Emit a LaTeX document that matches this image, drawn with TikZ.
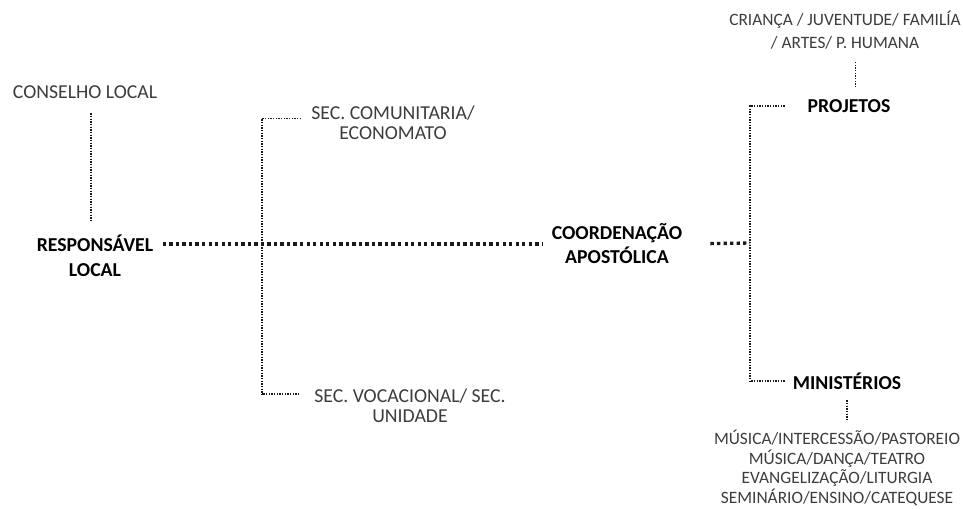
\documentclass[tikz,border=0pt]{standalone}
\usepackage{fontspec}
\setmainfont{Carlito}
\usetikzlibrary{calc}
\definecolor{txtgray}{HTML}{3C3C3C}
\definecolor{dotgray}{HTML}{1A1A1A}
\tikzset{
    plain/.style={inner sep=0pt, align=center, text=txtgray, font=\fontsize{14.8}{14.8}\selectfont},
    small/.style={plain, font=\fontsize{13}{14.8}\selectfont},
    chief/.style={inner sep=0pt, align=center, text=black, font=\fontsize{14.8}{19}\selectfont\bfseries},
    dotline/.style={draw=dotgray, line width=1pt, dash pattern=on 1pt off 1pt},
    thickdot/.style={draw=dotgray, line width=2.5pt, dash pattern=on 2.5pt off 2.4pt}
}
\begin{document}
\begin{tikzpicture}[x=0.75pt, y=-0.75pt]
    \useasboundingbox (0,0) rectangle (963,508);
    \node[plain] (consel) at (85,92) {CONSELHO LOCAL};
    \node[chief] (resp) at (95,256) {RESPONSÁVEL\\LOCAL};
    \node[chief, font=\fontsize{14.8}{18}\selectfont\bfseries] (coord) at (617,244) {COORDENAÇÃO\\APOSTÓLICA};
    \node[plain] (secc) at (393,123) {SEC. COMUNITARIA/\\ECONOMATO};
    \node[plain] (secv) at (410,406) {SEC. VOCACIONAL/ SEC.\\UNIDADE};
    \node[small, font=\fontsize{13}{17}\selectfont] (crianca) at (845,30) {CRIANÇA / JUVENTUDE/ FAMILÍA\\/ ARTES/ P. HUMANA};
    \node[chief] (proj) at (849,106) {PROJETOS};
    \node[chief] (minis) at (847,381) {MINISTÉRIOS};
    \node[small] (musica) at (837,468) {MÚSICA/INTERCESSÃO/PASTOREIO\\MÚSICA/DANÇA/TEATRO\\EVANGELIZAÇÃO/LITURGIA\\SEMINÁRIO/ENSINO/CATEQUESE};

    \coordinate (lbar) at (262,243);
    \coordinate (rbar) at (750,243);

    \draw[dotline, shorten <=11pt, shorten >=9pt] ([xshift=4.5pt]consel.south) -- ([xshift=4.5pt]consel.south |- resp.north);
    \draw[thickdot, shorten <=7pt, shorten >=7pt] (resp.east |- coord.west) -- (coord.west);
    \draw[thickdot, shorten <=21pt] (coord.east) -- (rbar);

    \draw[dotline, shorten <=7.5pt] ([yshift=3.5pt]secc.west) -- ([yshift=3.5pt]secc.west -| lbar) -- ([yshift=9pt]secv.west -| lbar);
    \draw[dotline, shorten <=11pt] ([yshift=9pt]secv.west) -- ([yshift=9pt]secv.west -| lbar);

    \draw[dotline, shorten <=17pt] (proj.west) -- (proj.west -| rbar) -- (minis.west -| rbar);
    \draw[dotline, shorten <=6pt] (minis.west) -- (minis.west -| rbar);

    \draw[dotline, shorten <=9pt, shorten >=9pt] ([xshift=5pt]proj.north) -- ([xshift=5pt]proj.north |- crianca.south);
    \draw[dotline, shorten <=8pt, shorten >=7pt] (minis.south) -- (minis.south |- musica.north);
\end{tikzpicture}
\end{document}
